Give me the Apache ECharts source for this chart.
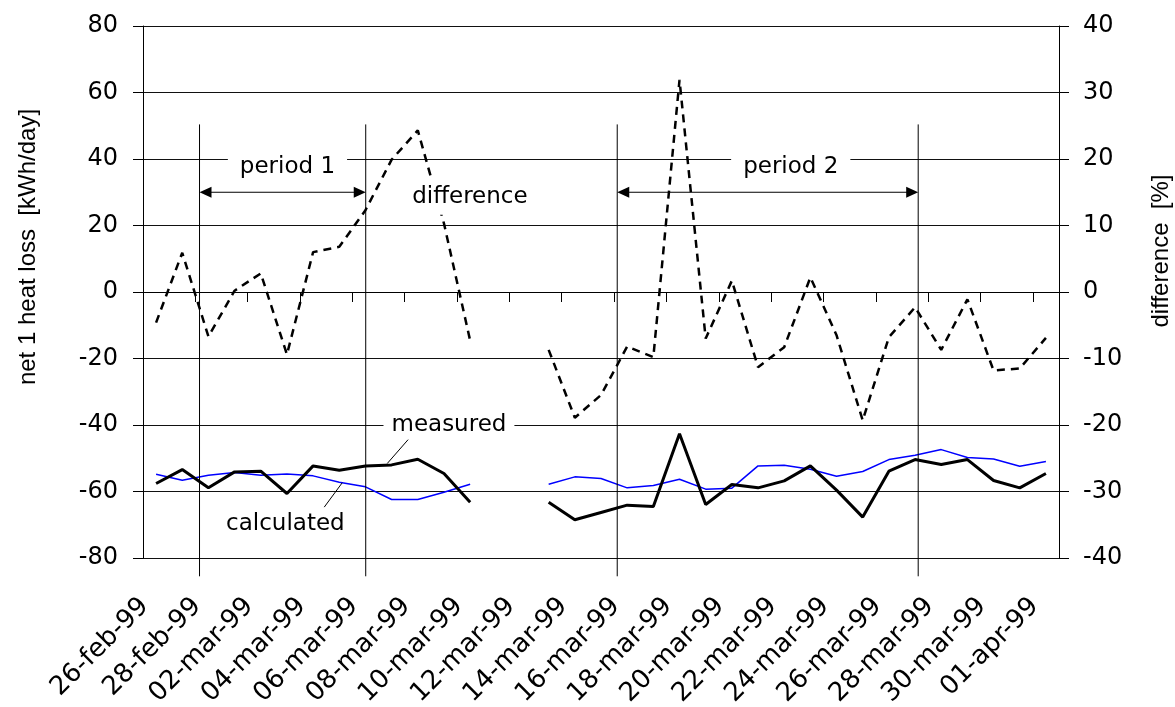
<!DOCTYPE html>
<html><head><meta charset="utf-8">
<script src="https://cdn.jsdelivr.net/npm/echarts@6/dist/echarts.min.js"></script>
<style>html,body{margin:0;padding:0;background:#fff}#c{width:1175px;height:707px}</style>
</head><body><div id="c"></div>
<script>
// ---- data ----
const dates = ['26-feb-99','27-feb-99','28-feb-99','01-mar-99','02-mar-99','03-mar-99','04-mar-99','05-mar-99','06-mar-99','07-mar-99','08-mar-99','09-mar-99','10-mar-99','11-mar-99','12-mar-99','13-mar-99','14-mar-99','15-mar-99','16-mar-99','17-mar-99','18-mar-99','19-mar-99','20-mar-99','21-mar-99','22-mar-99','23-mar-99','24-mar-99','25-mar-99','26-mar-99','27-mar-99','28-mar-99','29-mar-99','30-mar-99','31-mar-99','01-apr-99'];
const measured = [-57.6,-53.4,-58.9,-54.1,-53.9,-60.6,-52.3,-53.6,-52.3,-52.0,-50.3,-54.6,-63.2,null,null,-63.2,-68.5,-66.3,-64.1,-64.5,-42.6,-63.9,-57.9,-58.9,-56.8,-52.3,-59.6,-67.7,-53.9,-50.4,-51.9,-50.4,-56.7,-58.9,-54.6];
const calculated = [-54.8,-56.6,-55.1,-54.3,-55.1,-54.7,-55.3,-57.2,-58.6,-62.4,-62.4,-60.2,-57.8,null,null,-57.8,-55.6,-56.1,-58.9,-58.2,-56.3,-59.3,-59.0,-52.3,-52.1,-53.3,-55.4,-54.0,-50.4,-49.1,-47.4,-49.8,-50.2,-52.4,-51.0];
const difference = [-4.6,5.9,-6.7,0.2,2.8,-9.4,6.0,6.8,12.3,19.9,24.3,10.3,-7.3,null,null,-8.7,-18.9,-15.5,-8.2,-9.8,31.9,-7.0,1.7,-11.3,-8.3,2.2,-6.5,-19.3,-6.8,-2.3,-8.7,-1.1,-11.8,-11.5,-6.9];
const leftAxisRange = [-80, 80, 20];
const rightAxisRange = [-40, 40, 10];
const leftTitle = 'net 1 heat loss  [kWh/day]';
const rightTitle = 'difference  [%]';
// annotations (in category units 0..35 on x, left-axis units on y)
const periodNames = ['period 1', 'period 2'];
const periodBounds = [[2.16, 8.51], [18.12, 29.62]];
const periodLabelAt = [[5.52, 37.5], [24.75, 37.5]];
const periodLineSpan = [50.4, -85.5];
const arrowLevel = 30;
const seriesLabels = ['difference', 'measured', 'calculated'];
const seriesLabelAt = [[12.49, 28.5], [11.69, -40.1], [5.44, -69.7]];
const leaderLines = [null, [[10.13, -44.4], [9.33, -51.6]], [[6.925, -64.7], [7.61, -57.4]]];

const TITLE_FONT = 'Liberation Sans';
const FONT = 'DejaVu Sans';

const chart = echarts.init(document.getElementById('c'), null, {renderer: 'canvas'});
const option = {
  animation: false,
  backgroundColor: '#fff',
  textStyle: {fontFamily: FONT, color: '#000'},
  grid: {left: 143, right: 116, top: 26, bottom: 149, containLabel: false, outerBoundsMode: 'none'},
  xAxis: [
    {type: 'category', data: dates, boundaryGap: true, position: 'bottom',
     axisLine: {show: false, onZero: false}, axisTick: {show: false}, splitLine: {show: false},
     axisLabel: {rotate: 45, interval: 1, margin: 33, padding: [0, 16, 0, 0], fontSize: 26, fontFamily: FONT, color: '#000'}},
    {type: 'category', data: dates, boundaryGap: true, position: 'top',
     axisLine: {show: true, onZero: true, lineStyle: {color: '#000', width: 1}},
     axisTick: {show: true, inside: true, length: 10, interval: 1, lineStyle: {color: '#000'}},
     axisLabel: {show: false}, splitLine: {show: false}},
    {type: 'value', min: 0, max: 35, show: false}
  ],
  yAxis: [
    {type: 'value', position: 'left', min: leftAxisRange[0], max: leftAxisRange[1], interval: leftAxisRange[2],
     axisLine: {show: true, lineStyle: {color: '#000'}},
     axisTick: {show: true, length: 10, lineStyle: {color: '#000'}},
     axisLabel: {margin: 25, fontSize: 24, fontFamily: FONT, color: '#000'},
     splitLine: {show: true, lineStyle: {color: '#111', width: 1}}},
    {type: 'value', position: 'right', min: rightAxisRange[0], max: rightAxisRange[1], interval: rightAxisRange[2],
     axisLine: {show: true, lineStyle: {color: '#000'}},
     axisTick: {show: true, length: 10, lineStyle: {color: '#000'}},
     axisLabel: {margin: 24, fontSize: 24, fontFamily: FONT, color: '#000'},
     splitLine: {show: false}}
  ],
  series: [
    {name: 'difference', type: 'line', xAxisIndex: 0, yAxisIndex: 1, data: difference,
     symbol: 'none', connectNulls: false, lineStyle: {color: '#000', width: 2.5, type: [8, 6]}},
    {name: 'calculated', type: 'line', xAxisIndex: 0, yAxisIndex: 0, data: calculated,
     symbol: 'none', connectNulls: false, lineStyle: {color: '#0000ff', width: 1.5}},
    {name: 'measured', type: 'line', xAxisIndex: 0, yAxisIndex: 0, data: measured,
     symbol: 'none', connectNulls: false, lineStyle: {color: '#000', width: 3}}
  ]
};
chart.setOption(option);

function px(x, y) {
  return [chart.convertToPixel({xAxisIndex: 2}, x), chart.convertToPixel({yAxisIndex: 0}, y)];
}
const els = [];
const Z = 100;
const annFont = '23px "' + FONT + '"';
const titleFont = '24px "' + TITLE_FONT + '"';
periodBounds.forEach((b, k) => {
  const [x1, yTop] = px(b[0], periodLineSpan[0]);
  const [x2, yBot] = px(b[1], periodLineSpan[1]);
  const ya = px(0, arrowLevel)[1];
  els.push({type: 'line', z: Z, shape: {x1: x1, y1: yTop, x2: x1, y2: yBot}, style: {stroke: '#000', lineWidth: 1}});
  els.push({type: 'line', z: Z, shape: {x1: x2, y1: yTop, x2: x2, y2: yBot}, style: {stroke: '#000', lineWidth: 1}});
  els.push({type: 'line', z: Z, shape: {x1: x1 + 4, y1: ya, x2: x2 - 4, y2: ya}, style: {stroke: '#000', lineWidth: 1.2}});
  els.push({type: 'polygon', z: Z, shape: {points: [[x1, ya], [x1 + 12, ya - 5.5], [x1 + 12, ya + 5.5]]}, style: {fill: '#000'}});
  els.push({type: 'polygon', z: Z, shape: {points: [[x2, ya], [x2 - 12, ya - 5.5], [x2 - 12, ya + 5.5]]}, style: {fill: '#000'}});
  const p = px(periodLabelAt[k][0], periodLabelAt[k][1]);
  els.push({type: 'text', z: Z + 1, x: p[0], y: p[1], style: {text: periodNames[k], font: annFont, fill: '#000',
    align: 'center', verticalAlign: 'middle', backgroundColor: '#fff', padding: [0, 12]}});
});
seriesLabels.forEach((t, k) => {
  const p = px(seriesLabelAt[k][0], seriesLabelAt[k][1]);
  els.push({type: 'text', z: Z + 1, x: p[0], y: p[1], style: {text: t, font: annFont, fill: '#000',
    align: 'center', verticalAlign: 'middle', backgroundColor: '#fff', padding: k === 0 ? [6, 3] : [0, 8]}});
  if (leaderLines[k]) {
    const a = px(leaderLines[k][0][0], leaderLines[k][0][1]);
    const b = px(leaderLines[k][1][0], leaderLines[k][1][1]);
    els.push({type: 'line', z: Z, shape: {x1: a[0], y1: a[1], x2: b[0], y2: b[1]}, style: {stroke: '#000', lineWidth: 1}});
  }
});
// axis titles
els.push({type: 'text', z: Z, x: 28, y: 247, rotation: Math.PI / 2,
  style: {text: leftTitle, font: titleFont, fill: '#000', align: 'center', verticalAlign: 'middle'}});
els.push({type: 'text', z: Z, x: 1161, y: 251, rotation: Math.PI / 2,
  style: {text: rightTitle, font: titleFont, fill: '#000', align: 'center', verticalAlign: 'middle'}});
chart.setOption({graphic: {elements: els}});
</script>
</body></html>
